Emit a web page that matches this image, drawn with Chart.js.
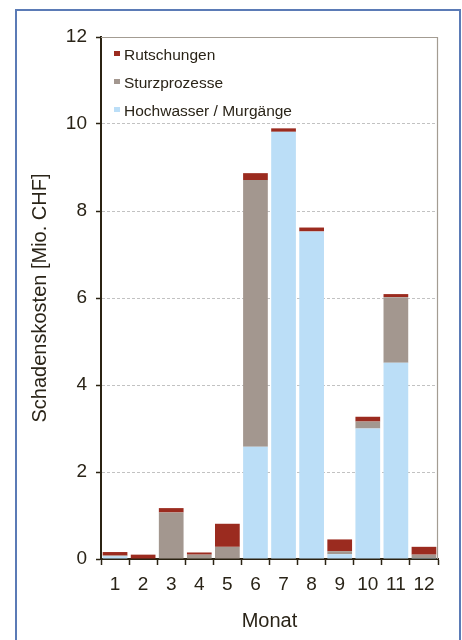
<!DOCTYPE html>
<html>
<head>
<meta charset="utf-8">
<script src="https://cdn.jsdelivr.net/npm/chart.js@4.4.1/dist/chart.umd.min.js"></script>
<style>
    html, body {margin: 0; padding: 0; background: #fff;}
    #wrap {position: relative; width: 462px; height: 640px; overflow: hidden;}
    #frame {position: absolute; left: 15px; top: 9px; width: 442px; height: 640px;
        border: 2px solid #5b7bb6; pointer-events: none;}
    canvas {position: absolute; left: 0; top: 0;}
</style>
</head>
<body>
<div id="wrap">
    <canvas id="chart" width="462" height="640"></canvas>
    <div id="frame"></div>
</div>
<script>
"use strict";

// Monate
const months = ['1', '2', '3', '4', '5', '6', '7', '8', '9', '10', '11', '12'];

// Schadenskosten in Mio. CHF
const hochwasser = [0.06, 0, 0, 0, 0, 2.58, 9.82, 7.53, 0.11, 3.0, 4.51, 0.02];
const sturz = [0.02, 0, 1.07, 0.10, 0.28, 6.13, 0, 0, 0.07, 0.16, 1.51, 0.08];
const rutschungen = [0.08, 0.10, 0.10, 0.05, 0.53, 0.16, 0.08, 0.09, 0.27, 0.11, 0.07, 0.18];

const yTicks = [0, 2, 4, 6, 8, 10, 12];

const TEXT = '#2a2418';
const FONT = "'Liberation Sans', Arial, sans-serif";

// legend inside plot, top-left, reversed order
const boxLegend = {
    id: 'boxLegend',
    afterDraw(chart) {
        const {ctx, chartArea} = chart;
        const sets = chart.data.datasets.slice().reverse();
        ctx.save();
        ctx.font = '15.5px ' + FONT;
        ctx.textBaseline = 'middle';
        sets.forEach((ds, i) => {
            const y = chartArea.top + 19 + i * 28;
            ctx.fillStyle = ds.backgroundColor;
            ctx.fillRect(chartArea.left + 13, y - 5, 6, 5);
            ctx.fillStyle = TEXT;
            ctx.fillText(ds.label, chartArea.left + 23, y);
        });
        ctx.restore();
    }
};

// grey top/right edge of plot area
const plotEdge = {
    id: 'plotEdge',
    beforeDatasetsDraw(chart) {
        const {ctx, chartArea} = chart;
        ctx.save();
        ctx.strokeStyle = '#a39c92';
        ctx.lineWidth = 1.2;
        ctx.beginPath();
        ctx.moveTo(chartArea.left, chartArea.top + 0.5);
        ctx.lineTo(chartArea.right - 0.5, chartArea.top + 0.5);
        ctx.lineTo(chartArea.right - 0.5, chartArea.bottom);
        ctx.stroke();
        ctx.restore();
    }
};

const bar = {barPercentage: 0.88, categoryPercentage: 1, borderWidth: 0};

new Chart(document.getElementById('chart'), {
    type: 'bar',
    data: {
        labels: months,
        datasets: [
            {label: 'Hochwasser / Murgänge', data: hochwasser, backgroundColor: '#bbdef7', ...bar},
            {label: 'Sturzprozesse', data: sturz, backgroundColor: '#a3978f', ...bar},
            {label: 'Rutschungen', data: rutschungen, backgroundColor: '#9b2b1f', ...bar}
        ]
    },
    options: {
        responsive: false,
        animation: false,
        layout: {padding: {left: 0, top: 37, right: 24, bottom: 0}},
        plugins: {legend: {display: false}, tooltip: {enabled: false}},
        scales: {
            x: {
                stacked: true,
                grid: {display: true, drawOnChartArea: false, offset: true,
                    tickLength: 6, tickColor: '#2b2313', tickWidth: 1.5},
                border: {display: true, color: '#2b2313', width: 2},
                ticks: {color: TEXT, font: {family: FONT, size: 19}, padding: 8, maxRotation: 0},
                title: {display: true, text: 'Monat', color: TEXT,
                    font: {family: FONT, size: 20}, padding: {top: 0, bottom: 7}},
                afterFit: s => { s.height = 81; }
            },
            y: {
                stacked: true,
                min: 0,
                max: 12,
                afterBuildTicks: s => { s.ticks = yTicks.map(v => ({value: v})); },
                grid: {color: c => c.tick && c.tick.value === 12 ? 'rgba(0,0,0,0)' : '#c2c2c2',
                    lineWidth: 1, tickLength: 5, tickColor: '#2b2313', tickWidth: 1.5},
                border: {display: true, color: '#2b2313', width: 2, dash: [3, 2]},
                ticks: {color: TEXT, font: {family: FONT, size: 19}, padding: 9},
                title: {display: true, text: 'Schadenskosten [Mio. CHF]', color: TEXT,
                    font: {family: FONT, size: 20}, padding: {top: 28, bottom: 0}},
                afterFit: s => { s.width = 101; }
            }
        }
    },
    plugins: [plotEdge, boxLegend]
});
</script>
</body>
</html>
